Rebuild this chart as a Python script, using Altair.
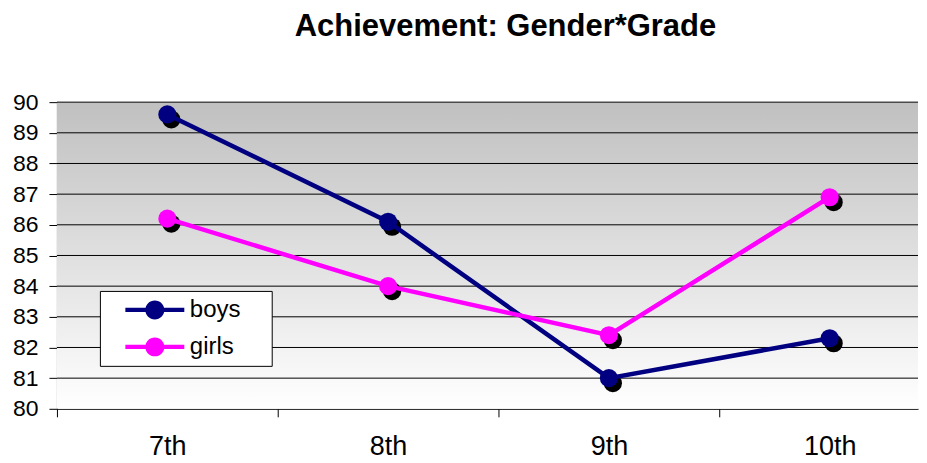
import json
import altair as alt
import pandas as pd

# ---- data ----
grades = ["7th", "8th", "9th", "10th"]
boys = [89.6, 86.1, 81.0, 82.3]
girls = [86.2, 84.0, 82.4, 86.9]
genders = ["boys", "girls"]
colors = ["#000080", "#ff00ff"]
y_ticks = list(range(80, 91))

rows = []
for i, g in enumerate(grades):
    rows.append({"idx": i, "grade": g, "gender": "boys", "score": boys[i]})
    rows.append({"idx": i, "grade": g, "gender": "girls", "score": girls[i]})
df = pd.DataFrame(rows)

x_domain = [-0.5, 3.4]
y_domain = [80, 90]
bg = pd.DataFrame({"idx": [x_domain[0]], "x2": [x_domain[1]], "score": [y_domain[0]], "y2": [y_domain[1]]})
grid = pd.DataFrame({"score": y_ticks[1:]})

FONT = "Liberation Sans"
xscale = alt.Scale(domain=x_domain, nice=False, zero=False)
yscale = alt.Scale(domain=y_domain, nice=False, zero=False)
cscale = alt.Scale(domain=genders, range=colors)

x_vals = [-0.5, 0, 0.5, 1, 1.5, 2, 2.5, 3]
label_expr = "datum.value % 1 === 0 ? " + json.dumps(grades) + "[datum.value] : ''"
x_axis = alt.Axis(
    values=x_vals, labelExpr=label_expr, title=None, grid=False,
    tickSize=8, tickColor="black",
    tickOpacity={"condition": {"test": "datum.value % 1 === 0", "value": 0}, "value": 1},
    domainColor="black", labelFontSize=27, labelPadding=17, labelColor="black",
    labelFont=FONT, labelOverlap=False, labelFlush=False, labelBound=False,
)
y_axis = alt.Axis(
    values=y_ticks, title=None, grid=False, tickSize=8, tickColor="black",
    domainColor="black", labelFontSize=23, labelPadding=11, labelColor="black",
    labelFont=FONT, labelOverlap=False, labelFlush=False,
)

X = alt.X("idx:Q", scale=xscale, axis=x_axis)
Y = alt.Y("score:Q", scale=yscale, axis=y_axis)

gradient = alt.LinearGradient(
    gradient="linear",
    stops=[alt.GradientStop(color="#c0c0c0", offset=0),
           alt.GradientStop(color="#ffffff", offset=1)],
    x1=0, x2=0, y1=0, y2=1,
)

background = alt.Chart(bg).mark_rect(color=gradient).encode(
    x=X, x2="x2:Q", y=Y, y2="y2:Q",
)

gridlines = alt.Chart(grid).mark_rule(color="black", strokeWidth=1).encode(y=Y)

shadow = alt.Chart(df).mark_point(
    filled=True, size=330, color="black", opacity=1, xOffset=4, yOffset=5, strokeWidth=0
).encode(x=X, y=Y)

line_layers = [
    alt.Chart(df).transform_filter(alt.datum.gender == g)
    .mark_line(color=c, strokeWidth=4.5).encode(x=X, y=Y)
    for g, c in zip(genders, colors)
]

sym_path = ("M-2.95,-0.22H2.95V0.22H-2.95Z "
            "M0.95,0A0.95,0.95,0,1,1,-0.95,0A0.95,0.95,0,1,1,0.95,0Z")

points = alt.Chart(df).mark_point(filled=True, size=330, opacity=1, strokeWidth=0).encode(
    x=X, y=Y,
    fill=alt.Fill(
        "gender:N", scale=cscale,
        legend=alt.Legend(
            title=" ", titleOrient="right", titlePadding=24, titleFontSize=10,
            orient="none", legendX=43, legendY=189, direction="vertical",
            symbolType=sym_path, symbolSize=400, symbolStrokeWidth=0, symbolOpacity=1,
            symbolOffset=36, labelOffset=23, labelFontSize=24, labelFont=FONT,
            labelColor="black", rowPadding=13, padding=7,
            strokeColor="black", fillColor="white",
        ),
    ),
)

chart = alt.layer(background, gridlines, shadow, *line_layers, points).properties(
    width=862,
    height=307,
    title=alt.Title(
        "Achievement: Gender*Grade", fontSize=31, font=FONT, fontWeight="bold",
        color="black", anchor="middle", frame="group", dx=18, offset=48,
    ),
    padding={"left": 4, "top": 3, "right": 0, "bottom": 0},
    background="white",
).configure_view(stroke=None)

chart.save("out.html", embed_options={"renderer": "svg", "actions": False})
